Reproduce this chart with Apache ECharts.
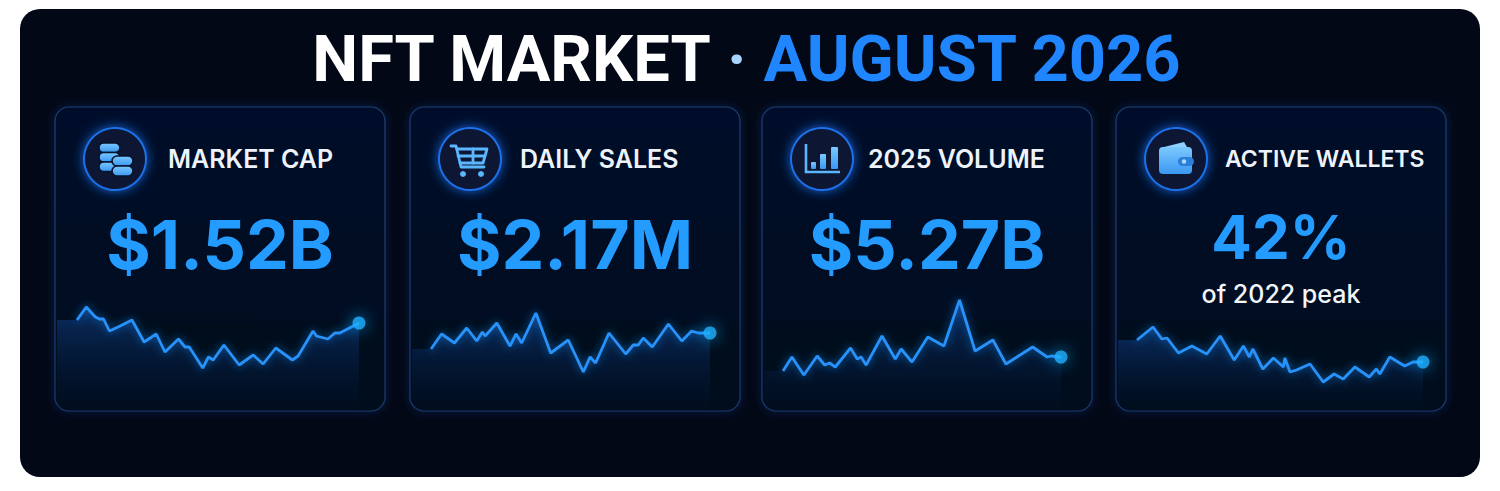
<!DOCTYPE html>
<html>
<head>
<meta charset="utf-8">
<script src="https://cdn.jsdelivr.net/npm/echarts@6/dist/echarts.min.js"></script>
<style>
  html, body { margin: 0; padding: 0; background: #ffffff; }
  #chart { width: 1500px; height: 491px; }
</style>
</head>
<body>
<div id="chart"></div>
<script>
// Headline texts
const titleWhite = 'NFT MARKET';
const titleBlue = 'AUGUST 2026';
const cardLabels = ['MARKET CAP', 'DAILY SALES', '2025 VOLUME', 'ACTIVE WALLETS'];
const cardValues = ['$1.52B', '$2.17M', '$5.27B', '42%'];
const cardNotes = ['', '', '', 'of 2022 peak'];

// Sparklines: x = position through the period (0-100), y = relative level
const marketCapX = [0, 3.3, 6.5, 8, 9.4, 11.5, 15.3, 19.5, 23.8, 28.1, 31.2, 36, 38.3, 39.8, 44.6, 46.6, 48.3, 52.1, 57.5, 62.5, 66, 70.5, 76.4, 78.4, 83.7, 84.9, 89, 91.4, 93.2, 100];
const marketCapY = [90, 103, 93, 91, 91, 79, 84, 90, 68, 76, 58, 71, 63, 63, 42, 53, 50, 65, 45, 55, 46, 62, 50, 54, 79, 74, 71, 77, 77, 87];

const dailySalesX = [0, 3.8, 8.4, 12.8, 16.4, 18.4, 19.4, 23.6, 28.3, 30.5, 32.5, 37.6, 42.9, 49.2, 54.6, 57, 59, 63.8, 69.8, 72.5, 74.3, 76.1, 79.3, 85.1, 89.9, 93.4, 95.8, 100];
const dailySalesY = [61, 76, 67, 82, 69, 78, 74, 87, 64, 76, 67, 97, 57, 70, 38, 53, 47, 77, 56, 65, 65, 72, 63, 86, 69, 79, 77, 77];

const volumeX = [0, 3.2, 7.5, 12.3, 15, 16.8, 18.8, 24.3, 26.7, 28.1, 29.9, 35.6, 40.4, 42.5, 46.4, 52.1, 57.9, 63.5, 69.1, 75.5, 80.2, 89.8, 95, 96.4, 100];
const volumeY = [39, 53, 35, 54, 45, 47, 43, 62, 51, 53, 45, 74, 51, 61, 48, 73, 64, 110, 59, 70, 46, 63, 53, 54, 53];

const walletsX = [0, 5.6, 8.7, 10.5, 14.5, 19.2, 24.4, 29.1, 34, 37.2, 39.3, 40.5, 44, 47.7, 51.2, 51.7, 53.5, 55.8, 60.5, 65.1, 68.9, 72.1, 76.2, 81.2, 83.7, 84.9, 88.4, 93.6, 96.5, 100];
const walletsY = [70, 83, 71, 72, 57, 64, 56, 74, 50, 64, 53, 61, 41, 52, 43, 52, 38, 40, 46, 28, 36, 31, 43, 33, 41, 36, 53, 44, 48, 48];

const sparkX = [marketCapX, dailySalesX, volumeX, walletsX];
const sparkY = [marketCapY, dailySalesY, volumeY, walletsY];

// Layout
const cardLeft = [55, 410, 762, 1116];
const cardTop = 107, cardW = 330, cardH = 304;
const labelLeft = [168, 520, 868, 1225];
const labelSize = [25, 25, 25, 23];
const lineStart = [77, 431, 783, 1137];
const lineSpan = [282, 279, 278, 286];
const sparkTop = 280, sparkH = 130, sparkMax = 130;

const ICON = '#5ab6ff';
function vGrad(top, bottom) {
  return new echarts.graphic.LinearGradient(0, 0, 0, 1, [
    { offset: 0, color: top }, { offset: 1, color: bottom }
  ]);
}
const iconFill = () => vGrad('#7cc8ff', '#3a98f2');

function coinsIcon(cx, cy) {
  const coin = (x, y, h) => ({
    type: 'rect', shape: { x: x, y: y, width: 21, height: h, r: h / 2 },
    style: { fill: iconFill(), stroke: '#07142e', lineWidth: 1.6 }
  });
  return [
    coin(cx - 16, cy - 16, 9.5), coin(cx - 16, cy - 6.5, 9.5), coin(cx - 16, cy + 3, 9.5),
    coin(cx - 3, cy - 3, 10), coin(cx - 3, cy + 7, 10)
  ];
}

function cartIcon(cx, cy) {
  const stroke = { fill: null, stroke: ICON, lineWidth: 2.8, lineJoin: 'round', lineCap: 'round' };
  const pl = pts => ({ type: 'polyline', shape: { points: pts.map(p => [cx + p[0], cy + p[1]]) }, style: Object.assign({}, stroke) });
  return [
    pl([[-19, -13], [-14, -13], [-9, 8], [14, 8]]),
    pl([[-13, -10], [17, -10], [13, 4], [-10, 4]]),
    pl([[3, -10], [3, 4]]),
    pl([[-12, -3], [15, -3]]),
    { type: 'circle', shape: { cx: cx - 7, cy: cy + 15, r: 3 }, style: { fill: ICON } },
    { type: 'circle', shape: { cx: cx + 11, cy: cy + 15, r: 3 }, style: { fill: ICON } }
  ];
}

function barsIcon(cx, cy) {
  const bar = (x, y, w, h) => ({ type: 'rect', shape: { x: cx + x, y: cy + y, width: w, height: h, r: 1 }, style: { fill: iconFill() } });
  return [
    { type: 'polyline', shape: { points: [[cx - 16, cy - 15], [cx - 16, cy + 13], [cx + 18, cy + 13]] },
      style: { fill: null, stroke: ICON, lineWidth: 2.6 } },
    bar(-11, 3, 5, 7), bar(-2, -5, 6, 15), bar(9, -12, 7, 22)
  ];
}

function walletIcon(cx, cy) {
  return [
    { type: 'polygon', shape: { points: [[cx - 12, cy - 12], [cx + 8, cy - 17], [cx + 11, cy - 12]] },
      style: { fill: '#8fd0ff' } },
    { type: 'rect', shape: { x: cx - 17, y: cy - 12, width: 33, height: 27, r: 4 }, style: { fill: iconFill() } },
    { type: 'rect', shape: { x: cx + 2, y: cy - 2, width: 16, height: 9, r: 4.5 }, style: { fill: '#2b7fd8' } },
    { type: 'circle', shape: { cx: cx + 8, cy: cy + 2.5, r: 2.2 }, style: { fill: '#a8dcff' } }
  ];
}

const iconMakers = [coinsIcon, cartIcon, barsIcon, walletIcon];

const graphics = [];

// Dark panel
graphics.push({
  type: 'rect', z: 0,
  shape: { x: 20, y: 9, width: 1460, height: 468, r: 20 },
  style: { fill: '#030817' }
});

// Title
graphics.push({
  type: 'text', z: 10,
  x: 746, y: 59,
  style: {
    text: '{w|' + titleWhite + ' }{d|·}{b| ' + titleBlue + '}',
    align: 'center', verticalAlign: 'middle',
    rich: {
      w: { fontFamily: 'Roboto', fontWeight: 'bold', fontSize: 65, fill: '#ffffff' },
      d: { fontFamily: 'Roboto', fontWeight: 'bold', fontSize: 65, fill: '#a8d4ff' },
      b: { fontFamily: 'Roboto', fontWeight: 'bold', fontSize: 65, fill: '#1f86ff' }
    }
  }
});

cardLeft.forEach((x0, i) => {
  const cx = x0 + cardW / 2;
  graphics.push({
    type: 'rect', z: 1,
    shape: { x: x0, y: cardTop, width: cardW, height: cardH, r: 14 },
    style: {
      fill: vGrad('#06112a', '#040a1b'),
      stroke: 'rgba(48,96,175,0.55)', lineWidth: 1.2,
      shadowBlur: 10, shadowColor: 'rgba(20,70,160,0.35)'
    }
  });
  const icx = x0 + 60, icy = 159;
  graphics.push({
    type: 'circle', z: 2,
    shape: { cx: icx, cy: icy, r: 31 },
    style: {
      fill: '#081733',
      stroke: '#1b6fe8', lineWidth: 2,
      shadowBlur: 12, shadowColor: 'rgba(30,120,255,0.8)'
    }
  });
  iconMakers[i](icx, icy).forEach(el => { el.z = 3; graphics.push(el); });

  graphics.push({
    type: 'text', z: 3, x: labelLeft[i], y: 159,
    style: {
      text: cardLabels[i], align: 'left', verticalAlign: 'middle',
      fontFamily: 'Inter', fontWeight: 600, fontSize: labelSize[i], fill: '#eef3fb'
    }
  });
  const hasNote = !!cardNotes[i];
  graphics.push({
    type: 'text', z: 3, x: cx, y: hasNote ? 237 : 244,
    style: {
      text: cardValues[i], align: 'center', verticalAlign: 'middle',
      fontFamily: 'Inter', fontWeight: 'bold', fontSize: hasNote ? 60 : 68,
      fill: '#239bff',
      shadowBlur: 14, shadowColor: 'rgba(30,140,255,0.35)'
    }
  });
  if (hasNote) {
    graphics.push({
      type: 'text', z: 3, x: cx, y: 294,
      style: {
        text: cardNotes[i], align: 'center', verticalAlign: 'middle',
        fontFamily: 'Inter', fontWeight: 500, fontSize: 25, fill: '#f2f5fa'
      }
    });
  }
});

const grids = [], xAxes = [], yAxes = [], series = [];
sparkX.forEach((xs, i) => {
  const ys = sparkY[i];
  const pts = xs.map((x, k) => [x, ys[k]]);
  // the fill reaches back to the card edge at the opening level
  const gridLeft = cardLeft[i] + 2;
  const leadX = (gridLeft - lineStart[i]) / lineSpan[i] * 100;
  grids.push({ left: gridLeft, top: sparkTop, width: lineStart[i] + lineSpan[i] - gridLeft, height: sparkH });
  xAxes.push({ type: 'value', gridIndex: i, min: leadX, max: 100, show: false });
  yAxes.push({ type: 'value', gridIndex: i, min: 0, max: sparkMax, show: false });
  series.push({
    type: 'line', xAxisIndex: i, yAxisIndex: i, z: 4,
    data: [[leadX, ys[0]]].concat(pts),
    symbol: 'none', silent: true,
    lineStyle: { width: 0, opacity: 0 },
    areaStyle: {
      origin: 'start',
      color: vGrad('rgba(30,110,235,0.48)', 'rgba(10,40,110,0.03)')
    }
  });
  series.push({
    type: 'line', xAxisIndex: i, yAxisIndex: i, z: 5,
    data: pts, symbol: 'none', silent: true,
    lineStyle: { width: 2.8, color: '#2792fa', shadowBlur: 8, shadowColor: 'rgba(30,144,255,0.7)' }
  });
  series.push({
    type: 'scatter', xAxisIndex: i, yAxisIndex: i, z: 6,
    data: [pts[pts.length - 1]], symbolSize: 13, silent: true,
    itemStyle: { color: '#1db0ff', shadowBlur: 16, shadowColor: 'rgba(30,170,255,1)' }
  });
});

const chart = echarts.init(document.getElementById('chart'), null, { renderer: 'svg' });
chart.setOption({
  animation: false,
  backgroundColor: '#ffffff',
  grid: grids,
  xAxis: xAxes,
  yAxis: yAxes,
  graphic: { elements: graphics },
  series: series
});
</script>
</body>
</html>
